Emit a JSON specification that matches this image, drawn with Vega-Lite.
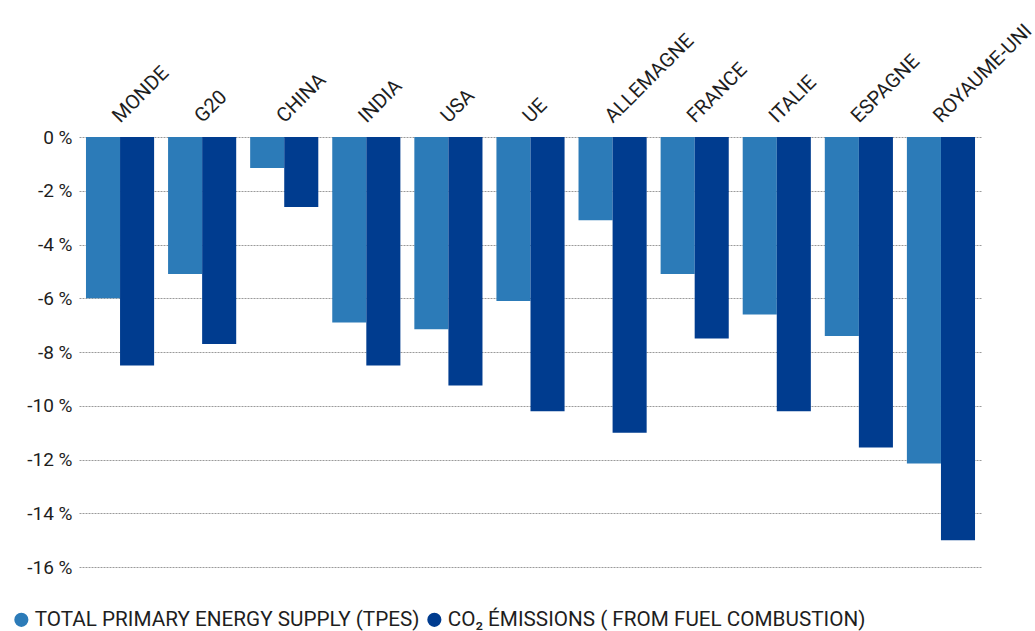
{
  "$schema": "https://vega.github.io/schema/vega-lite/v6.json",
  "autosize": "none",
  "width": 903,
  "height": 430,
  "padding": {"left": 79, "top": 137, "right": 53, "bottom": 64},
  "background": "white",
  "config": {
    "view": {"stroke": null},
    "font": "Roboto"
  },
  "data": {
    "values": [
      {"pays": "MONDE", "serie": "TOTAL PRIMARY ENERGY SUPPLY (TPES)", "v": -6.0},
      {"pays": "MONDE", "serie": "CO₂ ÉMISSIONS ( FROM FUEL COMBUSTION)", "v": -8.5},
      {"pays": "G20", "serie": "TOTAL PRIMARY ENERGY SUPPLY (TPES)", "v": -5.1},
      {"pays": "G20", "serie": "CO₂ ÉMISSIONS ( FROM FUEL COMBUSTION)", "v": -7.7},
      {"pays": "CHINA", "serie": "TOTAL PRIMARY ENERGY SUPPLY (TPES)", "v": -1.15},
      {"pays": "CHINA", "serie": "CO₂ ÉMISSIONS ( FROM FUEL COMBUSTION)", "v": -2.6},
      {"pays": "INDIA", "serie": "TOTAL PRIMARY ENERGY SUPPLY (TPES)", "v": -6.9},
      {"pays": "INDIA", "serie": "CO₂ ÉMISSIONS ( FROM FUEL COMBUSTION)", "v": -8.5},
      {"pays": "USA", "serie": "TOTAL PRIMARY ENERGY SUPPLY (TPES)", "v": -7.15},
      {"pays": "USA", "serie": "CO₂ ÉMISSIONS ( FROM FUEL COMBUSTION)", "v": -9.25},
      {"pays": "UE", "serie": "TOTAL PRIMARY ENERGY SUPPLY (TPES)", "v": -6.1},
      {"pays": "UE", "serie": "CO₂ ÉMISSIONS ( FROM FUEL COMBUSTION)", "v": -10.2},
      {"pays": "ALLEMAGNE", "serie": "TOTAL PRIMARY ENERGY SUPPLY (TPES)", "v": -3.1},
      {"pays": "ALLEMAGNE", "serie": "CO₂ ÉMISSIONS ( FROM FUEL COMBUSTION)", "v": -11.0},
      {"pays": "FRANCE", "serie": "TOTAL PRIMARY ENERGY SUPPLY (TPES)", "v": -5.1},
      {"pays": "FRANCE", "serie": "CO₂ ÉMISSIONS ( FROM FUEL COMBUSTION)", "v": -7.5},
      {"pays": "ITALIE", "serie": "TOTAL PRIMARY ENERGY SUPPLY (TPES)", "v": -6.6},
      {"pays": "ITALIE", "serie": "CO₂ ÉMISSIONS ( FROM FUEL COMBUSTION)", "v": -10.2},
      {"pays": "ESPAGNE", "serie": "TOTAL PRIMARY ENERGY SUPPLY (TPES)", "v": -7.4},
      {"pays": "ESPAGNE", "serie": "CO₂ ÉMISSIONS ( FROM FUEL COMBUSTION)", "v": -11.55},
      {"pays": "ROYAUME-UNI", "serie": "TOTAL PRIMARY ENERGY SUPPLY (TPES)", "v": -12.15},
      {"pays": "ROYAUME-UNI", "serie": "CO₂ ÉMISSIONS ( FROM FUEL COMBUSTION)", "v": -15.0}
    ]
  },
  "mark": {"type": "bar"},
  "encoding": {
    "x": {
      "field": "pays",
      "type": "nominal",
      "sort": null,
      "scale": {"paddingInner": 0.17, "paddingOuter": 0.085},
      "axis": {
        "orient": "top",
        "title": null,
        "labelAngle": -45,
        "labelAlign": "left",
        "labelBaseline": "middle",
        "labelFontSize": 20,
        "labelColor": "#1e1e1e",
        "labelPadding": 18,
        "domain": false,
        "ticks": false,
        "labelOffset": -4
      }
    },
    "xOffset": {
      "field": "serie",
      "type": "nominal",
      "sort": ["TOTAL PRIMARY ENERGY SUPPLY (TPES)", "CO₂ ÉMISSIONS ( FROM FUEL COMBUSTION)"],
      "scale": {"paddingInner": 0, "paddingOuter": 0}
    },
    "y": {
      "field": "v",
      "type": "quantitative",
      "scale": {"domain": [-16, 0], "nice": false, "zero": false},
      "axis": {
        "title": null,
        "values": [0, -2, -4, -6, -8, -10, -12, -14, -16],
        "labelExpr": "datum.value + ' %'",
        "labelFontSize": 19,
        "labelColor": "#1e1e1e",
        "labelPadding": 7,
        "domain": false,
        "ticks": false,
        "grid": true,
        "gridColor": "#9a9a9a",
        "gridDash": [2, 1],
        "gridWidth": 1
      }
    },
    "color": {
      "field": "serie",
      "type": "nominal",
      "sort": ["TOTAL PRIMARY ENERGY SUPPLY (TPES)", "CO₂ ÉMISSIONS ( FROM FUEL COMBUSTION)"],
      "scale": {
        "domain": ["TOTAL PRIMARY ENERGY SUPPLY (TPES)", "CO₂ ÉMISSIONS ( FROM FUEL COMBUSTION)"],
        "range": ["#2c7bb8", "#003c8f"]
      },
      "legend": {
        "title": null,
        "orient": "none",
        "legendX": -68,
        "legendY": 472,
        "direction": "horizontal",
        "symbolType": "circle",
        "symbolSize": 200,
        "symbolStrokeWidth": 0,
        "labelFontSize": 20.7,
        "labelColor": "#1e1e1e",
        "labelOffset": 3,
        "columnPadding": 4,
        "labelLimit": 600
      }
    }
  }
}
